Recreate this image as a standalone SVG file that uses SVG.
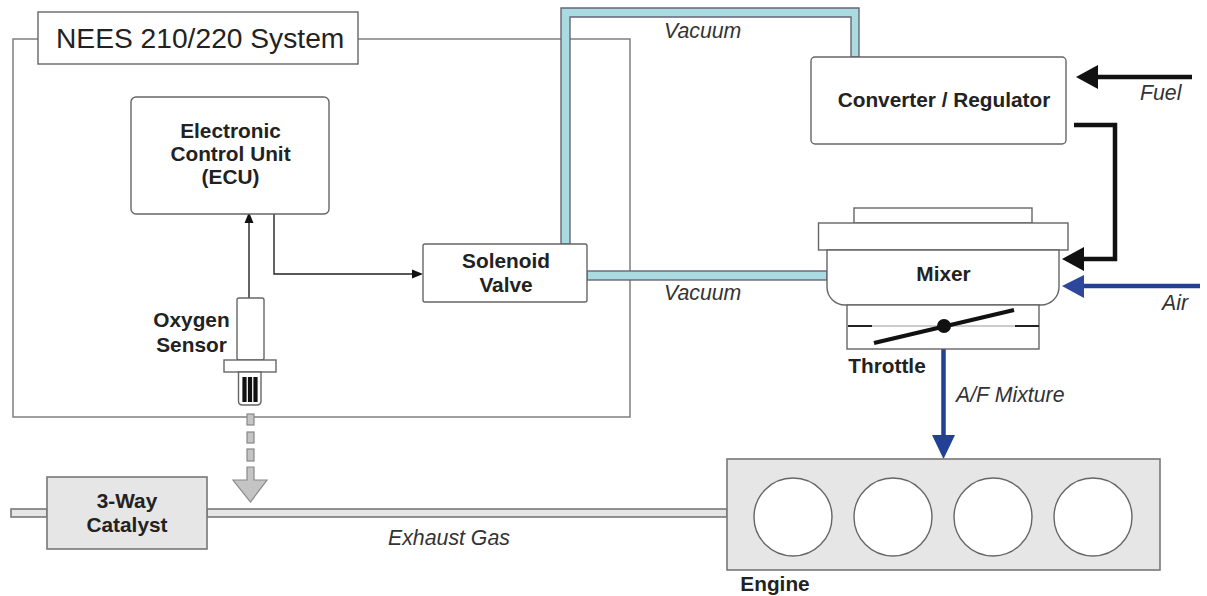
<svg xmlns="http://www.w3.org/2000/svg" width="1207" height="596" viewBox="0 0 1207 596">
<style>
text{font-family:"Liberation Sans",Arial,sans-serif;fill:#222}
.b{font-weight:bold;font-size:20.8px;text-anchor:middle}
.i{font-style:italic;font-size:21.3px;fill:#333}
.box{fill:#fff;stroke:#666;stroke-width:1.4}
.thin{fill:none;stroke:#222;stroke-width:1.4}
.grey{fill:#e6e6e6;stroke:#777;stroke-width:1.6}
.pipe{fill:#a9dbe0;stroke:#667;stroke-width:1.4}
.blk{fill:none;stroke:#111;stroke-width:4.5}
.blu{fill:none;stroke:#243f96;stroke-width:4.5}
.dash{fill:#c4c4c4;stroke:#888;stroke-width:1.2}
</style>
<rect width="1207" height="596" fill="#fff"/>
<g id="system">
<rect x="13" y="39" width="617" height="378" fill="none" stroke="#777" stroke-width="1.4"/>
<rect x="38" y="12" width="320" height="52" class="box"/>
<text x="56" y="48" font-size="28.2">NEES 210/220 System</text>
</g>
<g id="connectors">
<path class="pipe" d="M561 244V8H859V57H851V17H570V244Z"/>
<rect class="pipe" x="587" y="271" width="240" height="9"/>
<path class="thin" d="M249 298V222"/>
<path d="M249 212L244.500 223H253.500Z" fill="#111"/>
<path class="thin" d="M274 214V274H414"/>
<path d="M423 274L412 269.500V278.500Z" fill="#111"/>
<path class="blk" d="M1192 77H1096"/>
<path d="M1076 77L1098 65V89Z" fill="#111"/>
<path class="blk" d="M1074 125H1115V259H1080"/>
<path d="M1062 259L1084 247V271Z" fill="#111"/>
<path class="blu" d="M1200 286H1080"/>
<path d="M1062 286L1084 275V298Z" fill="#2c479c"/>
<path class="blu" d="M943.500 349V438"/>
<path d="M943.500 459L932 435H955Z" fill="#243f96"/>
<g class="dash">
<rect x="247" y="414" width="7" height="11"/>
<rect x="247" y="432" width="7" height="11"/>
<rect x="247" y="449" width="7" height="12"/>
<path d="M247 467H254V480H267L250.500 502L233 480H247Z"/>
</g>
</g>
<g id="exhaust">
<rect x="11" y="509" width="36" height="8" class="grey"/>
<rect x="207" y="509" width="520" height="8" class="grey"/>
<text x="388" y="545" class="i">Exhaust Gas</text>
</g>
<g id="ecu">
<rect x="131" y="97" width="198" height="117" rx="5" class="box"/>
<text class="b" x="230.500" y="138">Electronic</text>
<text class="b" x="230.500" y="161">Control Unit</text>
<text class="b" x="230.500" y="184">(ECU)</text>
</g>
<g id="solenoid">
<rect x="423" y="244" width="164" height="58" rx="2" class="box"/>
<text class="b" x="506" y="268">Solenoid</text>
<text class="b" x="506" y="292">Valve</text>
</g>
<g id="converter">
<rect x="811" y="57" width="255" height="87" rx="4" class="box"/>
<text class="b" x="944" y="107">Converter / Regulator</text>
</g>
<g id="mixer">
<rect x="854" y="208" width="178" height="15" class="box"/>
<rect x="818.500" y="223" width="249.500" height="27" class="box"/>
<path class="box" d="M827 250H1059V287A18 18 0 0 1 1041 305H845A18 18 0 0 1 827 287Z"/>
<text class="b" x="943.500" y="281">Mixer</text>
</g>
<g id="throttle">
<rect x="847" y="305" width="192" height="44" class="box"/>
<path d="M848 326H1039" stroke="#999" stroke-width="1.2"/>
<path d="M848 326H872M1015 326H1039" stroke="#222" stroke-width="1.8"/>
<path d="M874 343L1014 310" stroke="#111" stroke-width="4"/>
<circle cx="944" cy="326" r="7" fill="#111"/>
<text class="b" x="887" y="373">Throttle</text>
</g>
<g id="sensor">
<rect x="237" y="298" width="27" height="62" rx="2" class="box"/>
<rect x="224" y="360" width="52" height="12" class="box"/>
<path class="box" d="M238.500 372H261V401Q261 405 257 405H242.500Q238.500 405 238.500 401Z"/>
<path d="M244.500 377V402M250 377V402M255.500 377V402" stroke="#111" stroke-width="4.200"/>
<text class="b" x="191.500" y="327">Oxygen</text>
<text class="b" x="191.500" y="352">Sensor</text>
</g>
<g id="catalyst">
<rect x="47" y="477" width="160" height="72" class="grey"/>
<text class="b" x="127" y="508">3-Way</text>
<text class="b" x="127" y="532">Catalyst</text>
</g>
<g id="engine">
<rect x="727" y="459" width="433" height="111" class="grey"/>
<circle cx="793" cy="517" r="39" class="box"/>
<circle cx="893" cy="517" r="39" class="box"/>
<circle cx="993" cy="517" r="39" class="box"/>
<circle cx="1093" cy="517" r="39" class="box"/>
<text class="b" x="775" y="591">Engine</text>
</g>
<g id="labels">
<text x="664" y="38" class="i">Vacuum</text>
<text x="664" y="300" class="i">Vacuum</text>
<text x="1140" y="100" class="i">Fuel</text>
<text x="1162" y="310" class="i">Air</text>
<text x="956" y="402" class="i">A/F Mixture</text>
</g>
</svg>
